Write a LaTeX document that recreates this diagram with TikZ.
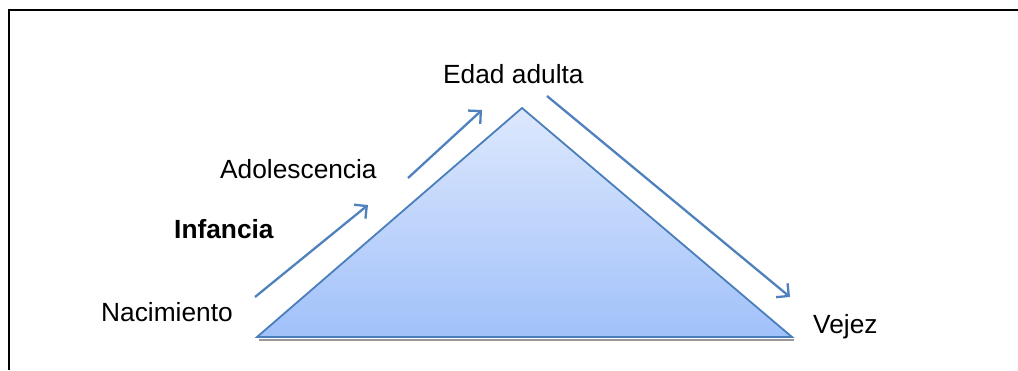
\documentclass[tikz,border=0pt]{standalone}
\usepackage{fontspec}
\setmainfont{Liberation Sans}
\usetikzlibrary{arrows.meta}
\definecolor{edge}{HTML}{4A7EBB}
\definecolor{arr}{HTML}{4F81BD}
\definecolor{toptri}{HTML}{DDE8FD}
\definecolor{bottri}{HTML}{A1C1FA}
\tikzset{
  lbl/.style={inner sep=0pt, anchor=base west, font=\fontsize{26.3}{31}\selectfont},
  stagearrow/.style={draw=arr, line width=2.3pt, -{Straight Barb[length=9pt,width=18pt,line width=2.3pt]}},
  frame/.style={line width=2.5pt, draw=black}
}
\begin{document}
\begin{tikzpicture}[x=1pt,y=-1pt]
\useasboundingbox (0,0) rectangle (1018,370);
% frame
\draw[frame] (9,370) -- (9,10) -- (1018,10);
% triangle
\coordinate (bl) at (257,337);
\coordinate (ap) at (522,108);
\coordinate (br) at (792,337);
\draw[gray!80, line width=2.5pt] (259,340) -- (794,340);
\shade[top color=toptri, bottom color=bottri] (bl) -- (ap) -- (br) -- cycle;
\draw[edge, line width=1.8pt, line join=miter] (bl) -- (ap) -- (br) -- cycle;
% labels
\node[lbl] (edad) at (443,83) {Edad adulta};
\node[lbl] (adol) at (220,178) {Adolescencia};
\node[lbl, font=\fontsize{26.3}{31}\selectfont\bfseries] (inf) at (174,238) {Infancia};
\node[lbl] (nac) at (101,321) {Nacimiento};
\node[lbl] (vej) at (813,333) {Vejez};
% arrows
\coordinate (a1s) at (255,297);
\coordinate (a1e) at (368,205);
\coordinate (a2s) at (408,178);
\coordinate (a2e) at (482,110);
\coordinate (a3s) at (547,96);
\coordinate (a3e) at (790,297);
\draw[stagearrow] (a1s) -- (a1e);
\draw[stagearrow] (a2s) -- (a2e);
\draw[stagearrow] (a3s) -- (a3e);
\end{tikzpicture}
\end{document}
